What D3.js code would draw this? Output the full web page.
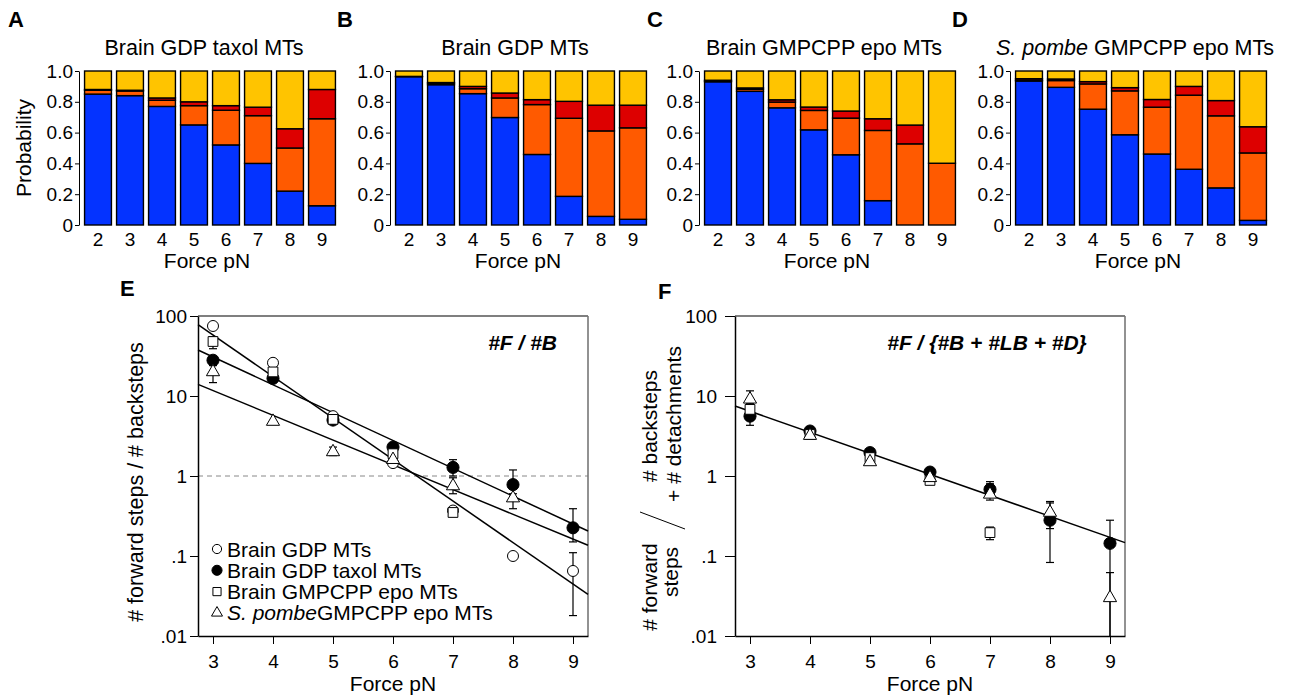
<!DOCTYPE html>
<html lang="en">
<head>
<meta charset="UTF-8">
<title>Step probabilities and step ratios</title>
<script src="https://d3js.org/d3.v7.min.js"></script>
<style>
  body { margin: 0; background: #fff; }
  svg { display: block; font-family: "Liberation Sans", Arial, sans-serif; }
  .domain, .tick line { stroke: #000; }
  .tick text { fill: #000; }
</style>
</head>
<body>
<svg id="fig" width="1300" height="698"></svg>
<script>
// ---- panels A-D : probability of each step type vs force
const forces = [2, 3, 4, 5, 6, 7, 8, 9];
const stepKinds = ["F", "B", "LB", "D"];
const stepColors = ["#0433ff", "#ff5a00", "#dd0000", "#ffc400"];

const taxolF  = [0.85, 0.84, 0.77, 0.65, 0.52, 0.40, 0.22, 0.125];
const taxolB  = [0.025, 0.03, 0.04, 0.125, 0.225, 0.31, 0.28, 0.565];
const taxolLB = [0.005, 0.005, 0.015, 0.025, 0.03, 0.055, 0.125, 0.19];
const taxolD  = [0.12, 0.125, 0.175, 0.20, 0.225, 0.235, 0.375, 0.12];

const gdpF  = [0.963, 0.911, 0.853, 0.698, 0.458, 0.186, 0.056, 0.037];
const gdpB  = [0.0, 0.009, 0.032, 0.127, 0.324, 0.507, 0.555, 0.594];
const gdpLB = [0.002, 0.005, 0.015, 0.032, 0.032, 0.11, 0.167, 0.147];
const gdpD  = [0.035, 0.075, 0.10, 0.143, 0.186, 0.197, 0.222, 0.222];

const gmpcppF  = [0.93, 0.868, 0.761, 0.618, 0.456, 0.158, 0, 0];
const gmpcppB  = [0.005, 0.013, 0.037, 0.126, 0.238, 0.456, 0.527, 0.401];
const gmpcppLB = [0.005, 0.009, 0.015, 0.022, 0.046, 0.076, 0.122, 0];
const gmpcppD  = [0.06, 0.11, 0.187, 0.234, 0.26, 0.31, 0.351, 0.599];

const pombeF  = [0.935, 0.894, 0.752, 0.586, 0.461, 0.362, 0.241, 0.03];
const pombeB  = [0.005, 0.044, 0.164, 0.285, 0.304, 0.481, 0.468, 0.438];
const pombeLB = [0.01, 0.01, 0.015, 0.021, 0.05, 0.057, 0.099, 0.17];
const pombeD  = [0.05, 0.052, 0.069, 0.108, 0.185, 0.10, 0.192, 0.362];

const probTicks = [0, 0.2, 0.4, 0.6, 0.8, 1.0];

// ---- panels E-F : step ratios vs force (log scale)
const ratioForces = [3, 4, 5, 6, 7, 8, 9];
const logTicks = [0.01, 0.1, 1, 10, 100];
const logTickLabels = [".01", ".1", "1", "10", "100"];

// E: #F / #B
const gdpFB    = [75, 26, 5.6, 1.45, 0.37, 0.10, 0.065];
const taxolFB  = [28, 16.6, 5.0, 2.3, 1.28, 0.78, 0.225];
const gmpcppFB = [48, 20, 5.1, 1.9, 0.35, null, null];
const pombeFB  = [20, 4.8, 2.0, 1.6, 0.75, 0.53, null];
const gdpFBerr    = [null, null, null, null, null, null, [0.018, 0.11]];
const taxolFBerr  = [null, null, null, null, [1.0, 1.6], [0.6, 1.19], [0.15, 0.39]];
const gmpcppFBerr = [[39, 55], null, null, null, null, null, null];
const pombeFBerr  = [[14.7, 24], null, [1.8, 2.3], null, [0.6, 0.95], [0.39, 0.7], null];
// fitted lines, log10(ratio) = a + b * force
const fitsFB = [[3.32, -0.519], [2.532, -0.348], [1.997, -0.3095]];

// F: #F / (#B + #LB + #D)
const taxolFA  = [5.6, 3.65, 1.96, 1.12, 0.68, 0.28, 0.144];
const gmpcppFA = [6.8, 3.3, 1.7, 0.88, 0.196, null, null];
const pombeFA  = [9.1, 3.2, 1.5, 0.95, 0.59, 0.35, 0.03];
const taxolFAerr  = [[4.3, 6.5], [3.2, 4.1], null, null, [0.55, 0.85], [0.083, 0.46], [0.01, 0.28]];
const gmpcppFAerr = [[6.0, 7.5], null, null, null, [0.16, 0.23], null, null];
const pombeFAerr  = [[8.0, 11.6], null, null, null, [0.5, 0.8], [0.22, 0.48], [0.01, 0.062]];
const fitsFA = [[1.5975, -0.2627]];

const svg = d3.select("#fig");

function letter(t, x, y) {
  svg.append("text").attr("x", x).attr("y", y).attr("font-size", 22)
    .attr("font-weight", "bold").text(t);
}

// ---------- stacked bar panels
const barPanels = [
  { letter: "A", lx: 8,   title: ["", "Brain GDP taxol MTs"], axisX: 79,   F: taxolF,  B: taxolB,  LB: taxolLB,  D: taxolD, ylabel: true },
  { letter: "B", lx: 337, title: ["", "Brain GDP MTs"],       axisX: 390,  F: gdpF,    B: gdpB,    LB: gdpLB,    D: gdpD },
  { letter: "C", lx: 647, title: ["", "Brain GMPCPP epo MTs"], axisX: 699, F: gmpcppF, B: gmpcppB, LB: gmpcppLB, D: gmpcppD },
  { letter: "D", lx: 952, title: ["S. pombe", " GMPCPP epo MTs"], axisX: 1010, F: pombeF, B: pombeB, LB: pombeLB, D: pombeD }
];

function barPanel(p) {
  const g = svg.append("g");
  const x = d3.scaleBand().domain(forces).range([p.axisX + 3, p.axisX + 259])
    .paddingInner(0.16).paddingOuter(0.08);
  const y = d3.scaleLinear().domain([0, 1]).range([225, 71]);
  const rows = forces.map((f, i) => ({ force: f, F: p.F[i], B: p.B[i], LB: p.LB[i], D: p.D[i] }));
  const layers = d3.stack().keys(stepKinds)(rows);

  g.selectAll("g.layer").data(layers).join("g")
    .attr("class", "layer").attr("fill", (d, i) => stepColors[i])
    .selectAll("rect").data(d => d).join("rect")
    .attr("x", d => x(d.data.force))
    .attr("width", x.bandwidth())
    .attr("y", d => y(d[1]))
    .attr("height", d => y(d[0]) - y(d[1]))
    .attr("stroke", "#000").attr("stroke-width", 1.4);

  g.append("g").attr("transform", `translate(${p.axisX},0)`)
    .call(d3.axisLeft(y).tickValues(probTicks).tickSize(4).tickPadding(2).tickSizeOuter(0)
      .tickFormat(d => d === 0 ? "0" : d3.format(".1f")(d)))
    .attr("font-size", 19).attr("font-family", null);

  const xa = g.append("g").attr("transform", "translate(0,225)")
    .call(d3.axisBottom(x).tickSize(0).tickPadding(8))
    .attr("font-size", 19).attr("font-family", null);
  xa.select(".domain").remove();

  const t = g.append("text").attr("x", p.axisX + 125).attr("y", 55)
    .attr("text-anchor", "middle").attr("font-size", 21.5);
  if (p.title[0]) t.append("tspan").attr("font-style", "italic").text(p.title[0]);
  t.append("tspan").text(p.title[1]);

  g.append("text").attr("x", p.axisX + 128).attr("y", 268)
    .attr("text-anchor", "middle").attr("font-size", 21).text("Force pN");

  if (p.ylabel) {
    g.append("text").attr("transform", "translate(31,148) rotate(-90)")
      .attr("text-anchor", "middle").attr("font-size", 21).text("Probability");
  }
  letter(p.letter, p.lx, 27);
}
barPanels.forEach(barPanel);

// ---------- ratio panels
const ratioStyles = {
  gdp:    { type: d3.symbolCircle,   fill: "#fff", size: 95 },
  taxol:  { type: d3.symbolCircle,   fill: "#000", size: 115 },
  gmpcpp: { type: d3.symbolSquare,   fill: "#fff", size: 95 },
  pombe:  { type: d3.symbolTriangle, fill: "#fff", size: 75 }
};

function ratioPanel(p) {
  const g = svg.append("g");
  const left = p.left, right = p.left + 390;
  const x = d3.scaleLinear().domain([2.75, 9.25]).range([left, right]);
  const y = d3.scaleLog().domain([0.01, 100]).range([636, 316]);

  if (p.dashed) {
    g.append("line").attr("x1", left).attr("x2", right)
      .attr("y1", y(1)).attr("y2", y(1))
      .attr("stroke", "#888").attr("stroke-dasharray", "5,4");
  }
  g.append("line").attr("x1", left).attr("x2", right).attr("y1", 316).attr("y2", 316)
    .attr("stroke", "#000").attr("stroke-width", 1.2);
  g.append("line").attr("x1", right).attr("x2", right).attr("y1", 316).attr("y2", 636)
    .attr("stroke", "#777").attr("stroke-width", 1.6);

  g.append("g").attr("transform", `translate(${left},0)`)
    .call(d3.axisLeft(y).tickValues(logTicks).tickSize(p.tick).tickPadding(p.pad).tickSizeOuter(0)
      .tickFormat((d, i) => logTickLabels[i]))
    .attr("font-size", 19).attr("font-family", null)
    .selectAll(".domain").attr("stroke-width", 1.5);

  g.append("g").attr("transform", "translate(0,636)")
    .call(d3.axisBottom(x).tickValues(ratioForces).tickSize(8).tickPadding(11).tickSizeOuter(0)
      .tickFormat(d3.format("d")))
    .attr("font-size", 19).attr("font-family", null)
    .selectAll(".domain").attr("stroke-width", 1.5);

  const line = d3.line().x(d => x(d[0])).y(d => y(d[1]));
  p.fits.forEach(([a, b]) => {
    g.append("path")
      .datum([2.75, 9.25].map(f => [f, Math.pow(10, a + b * f)]))
      .attr("d", line).attr("fill", "none").attr("stroke", "#000").attr("stroke-width", 1.5);
  });

  // error bars
  p.series.forEach(s => {
    s.err.forEach((e, i) => {
      if (!e) return;
      const cx = x(ratioForces[i]);
      const lo = Math.max(e[0], 0.01);
      g.append("line").attr("x1", cx).attr("x2", cx).attr("y1", y(lo)).attr("y2", y(e[1]))
        .attr("stroke", "#000").attr("stroke-width", 1.2);
      [lo, e[1]].forEach(v => {
        if (v <= 0.01) return;
        g.append("line").attr("x1", cx - 4).attr("x2", cx + 4).attr("y1", y(v)).attr("y2", y(v))
          .attr("stroke", "#000").attr("stroke-width", 1.2);
      });
    });
  });

  // markers
  p.series.forEach(s => {
    const st = ratioStyles[s.key];
    const sym = d3.symbol().type(st.type).size(st.size);
    g.append("g").selectAll("path")
      .data(s.values.map((v, i) => [ratioForces[i], v]).filter(d => d[1] != null))
      .join("path")
      .attr("transform", d => `translate(${x(d[0])},${y(d[1])})`)
      .attr("d", sym).attr("fill", st.fill).attr("stroke", "#000").attr("stroke-width", 1);
  });

  g.append("text").attr("x", (left + right) / 2).attr("y", 691)
    .attr("text-anchor", "middle").attr("font-size", 21).text("Force pN");

  g.append("text").attr("x", p.tagX).attr("y", 350).attr("text-anchor", p.tagAnchor)
    .attr("font-size", 21).attr("font-weight", "bold").attr("font-style", "italic").text(p.tag);

  letter(p.letter, p.lx, p.ly);
}

ratioPanel({
  letter: "E", lx: 120, ly: 296, left: 198, tick: 8, pad: 3, dashed: true,
  tag: "#F / #B", tagX: 557, tagAnchor: "end", fits: fitsFB,
  series: [
    { key: "taxol",  values: taxolFB,  err: taxolFBerr },
    { key: "gdp",    values: gdpFB,    err: gdpFBerr },
    { key: "gmpcpp", values: gmpcppFB, err: gmpcppFBerr },
    { key: "pombe",  values: pombeFB,  err: pombeFBerr }
  ]
});

ratioPanel({
  letter: "F", lx: 658, ly: 299, left: 735, tick: 10, pad: 8, dashed: false,
  tag: "#F / {#B + #LB + #D}", tagX: 987, tagAnchor: "middle", fits: fitsFA,
  series: [
    { key: "taxol",  values: taxolFA,  err: taxolFAerr },
    { key: "gmpcpp", values: gmpcppFA, err: gmpcppFAerr },
    { key: "pombe",  values: pombeFA,  err: pombeFAerr }
  ]
});

// E axis label
svg.append("text").attr("transform", "translate(143,482) rotate(-90)")
  .attr("text-anchor", "middle").attr("font-size", 21.5).text("# forward steps / # backsteps");

// F axis label, written as a fraction
const fLabel = [
  ["# forward", 657, 587], ["steps", 678, 572],
  ["# backsteps", 657, 426], ["+ # detachments", 681, 424]
];
fLabel.forEach(([t, lx, ly]) => {
  svg.append("text").attr("transform", `translate(${lx},${ly}) rotate(-90)`)
    .attr("text-anchor", "middle").attr("font-size", 21).text(t);
});
svg.append("line").attr("x1", 640).attr("y1", 512).attr("x2", 685).attr("y2", 529)
  .attr("stroke", "#000").attr("stroke-width", 1);

// legend (panel E)
const legendRows = [
  { key: "gdp",    label: ["", "Brain GDP MTs"] },
  { key: "taxol",  label: ["", "Brain GDP taxol MTs"] },
  { key: "gmpcpp", label: ["", "Brain GMPCPP epo MTs"] },
  { key: "pombe",  label: ["S. pombe", "GMPCPP epo MTs"] }
];
legendRows.forEach((r, i) => {
  const st = ratioStyles[r.key];
  const cy = 549 + i * 21.3;
  svg.append("path").attr("transform", `translate(217,${cy})`)
    .attr("d", d3.symbol().type(st.type).size(st.size * 0.7))
    .attr("fill", st.fill).attr("stroke", "#000").attr("stroke-width", 1);
  const t = svg.append("text").attr("x", 227).attr("y", cy + 7.5).attr("font-size", 21);
  if (r.label[0]) t.append("tspan").attr("font-style", "italic").text(r.label[0]);
  t.append("tspan").text(r.label[1]);
});
</script>
</body>
</html>
